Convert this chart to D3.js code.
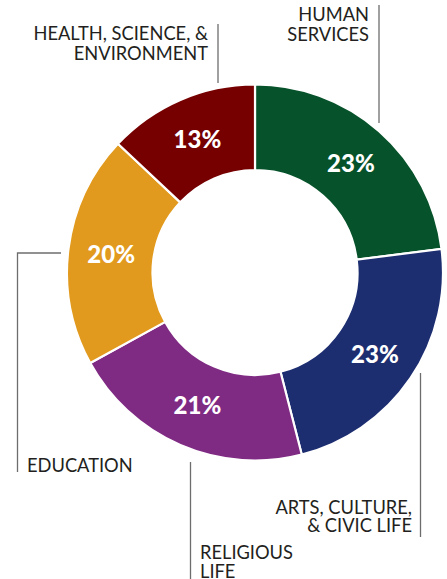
<!DOCTYPE html>
<html>
<head>
<meta charset="utf-8">
<script src="https://cdn.jsdelivr.net/npm/d3@7"></script>
<style>
  html, body { margin: 0; padding: 0; background: #fff; }
  svg { display: block; }
</style>
</head>
<body>
<svg id="chart" width="447" height="579"></svg>
<script>
// Share of giving by sector, clockwise from 12 o'clock
const categories = ["Human Services", "Arts, Culture, & Civic Life", "Religious Life", "Education", "Health, Science, & Environment"];
const shares = [23, 23, 21, 20, 13];
const colors = ["#06522a", "#1c2d70", "#7f2a83", "#e19a1d", "#760000"];
const labelLines = [
  ["HUMAN", "SERVICES"],
  ["ARTS, CULTURE,", "& CIVIC LIFE"],
  ["RELIGIOUS", "LIFE"],
  ["EDUCATION"],
  ["HEALTH, SCIENCE, &", "ENVIRONMENT"]
];

const svg = d3.select("#chart");
const cx = 255, cy = 272.5;
const outerR = 188, innerR = 102.5;

const pie = d3.pie().sort(null).value(d => d)
  .startAngle(0).endAngle(2 * Math.PI);
const arcs = pie(shares);

const arc = d3.arc().innerRadius(innerR).outerRadius(outerR);
const labelArc = d3.arc().innerRadius(145).outerRadius(145);

const g = svg.append("g").attr("transform", `translate(${cx},${cy})`);

g.selectAll("path.slice")
  .data(arcs)
  .join("path")
  .attr("class", "slice")
  .attr("d", arc)
  .attr("fill", (d, i) => colors[i])
  .attr("stroke", "#fff")
  .attr("stroke-width", 2.2)
  .attr("stroke-linejoin", "miter");

g.selectAll("text.pct")
  .data(arcs)
  .join("text")
  .attr("class", "pct")
  .attr("transform", d => `translate(${labelArc.centroid(d)})`)
  .attr("text-anchor", "middle")
  .attr("dy", "0.36em")
  .attr("fill", "#fff")
  .style("font-family", "Lato, 'Open Sans', sans-serif")
  .style("font-weight", 900)
  .style("font-size", "24px")
  .text(d => d.value + "%");

// Category captions with their leader rules
const captionLayout = [
  { x: 369, y: 21, lead: 20, anchor: "end", rule: [[379, 5], [379, 123]] },
  { x: 412, y: 514, lead: 18, anchor: "end", rule: [[420.5, 373], [420.5, 537]] },
  { x: 200, y: 559, lead: 19, anchor: "start", rule: [[190.5, 462], [190.5, 579]] },
  { x: 27, y: 472, lead: 20, anchor: "start", rule: [[61, 253], [17.5, 253], [17.5, 472]] },
  { x: 208, y: 40, lead: 20, anchor: "end", rule: [[218, 24], [218, 83]] }
];

const line = d3.line();
svg.selectAll("path.rule")
  .data(captionLayout)
  .join("path")
  .attr("class", "rule")
  .attr("d", d => line(d.rule))
  .attr("fill", "none")
  .attr("stroke", "#6d6d6d")
  .attr("stroke-width", 1.3);

const captions = svg.selectAll("text.caption")
  .data(captionLayout)
  .join("text")
  .attr("class", "caption")
  .attr("text-anchor", d => d.anchor)
  .attr("fill", "#231f20")
  .style("font-family", "Lato, 'Open Sans', sans-serif")
  .style("font-weight", 400)
  .style("font-size", "18.3px");

captions.each(function(d, i) {
  d3.select(this).selectAll("tspan")
    .data(labelLines[i])
    .join("tspan")
    .attr("x", d.x)
    .attr("y", (t, j) => d.y + j * d.lead)
    .text(t => t);
});
</script>
</body>
</html>
